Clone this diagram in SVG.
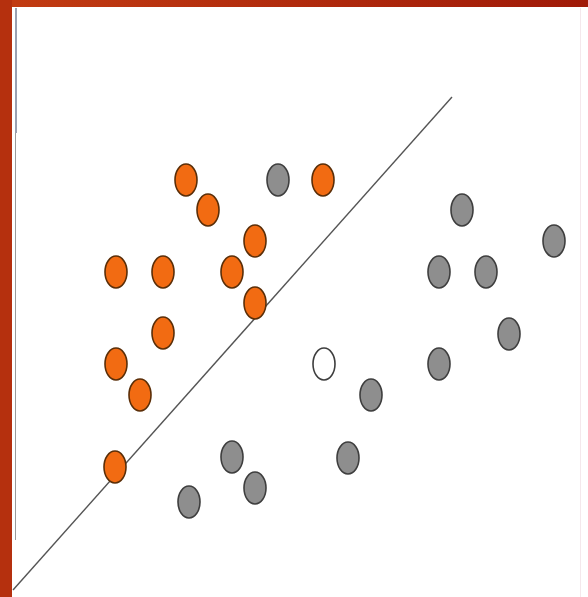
<svg xmlns="http://www.w3.org/2000/svg" width="588" height="597" viewBox="0 0 588 597">
<defs>
<linearGradient id="topbar" x1="0" y1="0" x2="1" y2="0">
<stop offset="0" stop-color="#C23C12"/>
<stop offset="1" stop-color="#A01A08"/>
</linearGradient>
<style>
.o{fill:#F26B12;stroke:#5A2E08;stroke-width:1.6}
.g{fill:#8E8E8E;stroke:#3E3E3E;stroke-width:1.6}
.w{fill:#FFFFFF;stroke:#3E3E3E;stroke-width:1.6}
</style>
</defs>
<rect x="0" y="0" width="588" height="597" fill="#FFFFFF"/>
<rect x="0" y="0" width="588" height="7" fill="url(#topbar)"/>
<rect x="0" y="0" width="12" height="597" fill="#B5300E"/>
<line x1="16" y1="8" x2="16" y2="133" stroke="#9AA0B0" stroke-width="2"/>
<line x1="15.5" y1="133" x2="15.5" y2="540" stroke="#9A9A9A" stroke-width="1"/>
<line x1="580.5" y1="8" x2="580.5" y2="597" stroke="#F4E8EC" stroke-width="1"/>
<g id="connectors">
<line x1="13" y1="590" x2="452" y2="97" stroke="#555" stroke-width="1.4"/>
</g>
<g id="orange">
<ellipse class="o" cx="186" cy="180" rx="11" ry="16"/>
<ellipse class="o" cx="208" cy="210" rx="11" ry="16"/>
<ellipse class="o" cx="323" cy="180" rx="11" ry="16"/>
<ellipse class="o" cx="255" cy="241" rx="11" ry="16"/>
<ellipse class="o" cx="116" cy="272" rx="11" ry="16"/>
<ellipse class="o" cx="163" cy="272" rx="11" ry="16"/>
<ellipse class="o" cx="232" cy="272" rx="11" ry="16"/>
<ellipse class="o" cx="255" cy="303" rx="11" ry="16"/>
<ellipse class="o" cx="163" cy="333" rx="11" ry="16"/>
<ellipse class="o" cx="116" cy="364" rx="11" ry="16"/>
<ellipse class="o" cx="140" cy="395" rx="11" ry="16"/>
<ellipse class="o" cx="115" cy="467" rx="11" ry="16"/>
</g>
<g id="gray">
<ellipse class="g" cx="278" cy="180" rx="11" ry="16"/>
<ellipse class="g" cx="462" cy="210" rx="11" ry="16"/>
<ellipse class="g" cx="554" cy="241" rx="11" ry="16"/>
<ellipse class="g" cx="439" cy="272" rx="11" ry="16"/>
<ellipse class="g" cx="486" cy="272" rx="11" ry="16"/>
<ellipse class="g" cx="509" cy="334" rx="11" ry="16"/>
<ellipse class="g" cx="439" cy="364" rx="11" ry="16"/>
<ellipse class="g" cx="371" cy="395" rx="11" ry="16"/>
<ellipse class="g" cx="232" cy="457" rx="11" ry="16"/>
<ellipse class="g" cx="348" cy="458" rx="11" ry="16"/>
<ellipse class="g" cx="255" cy="488" rx="11" ry="16"/>
<ellipse class="g" cx="189" cy="502" rx="11" ry="16"/>
</g>
<g id="unknown">
<ellipse class="w" cx="324" cy="364" rx="11" ry="16"/>
</g>
</svg>
